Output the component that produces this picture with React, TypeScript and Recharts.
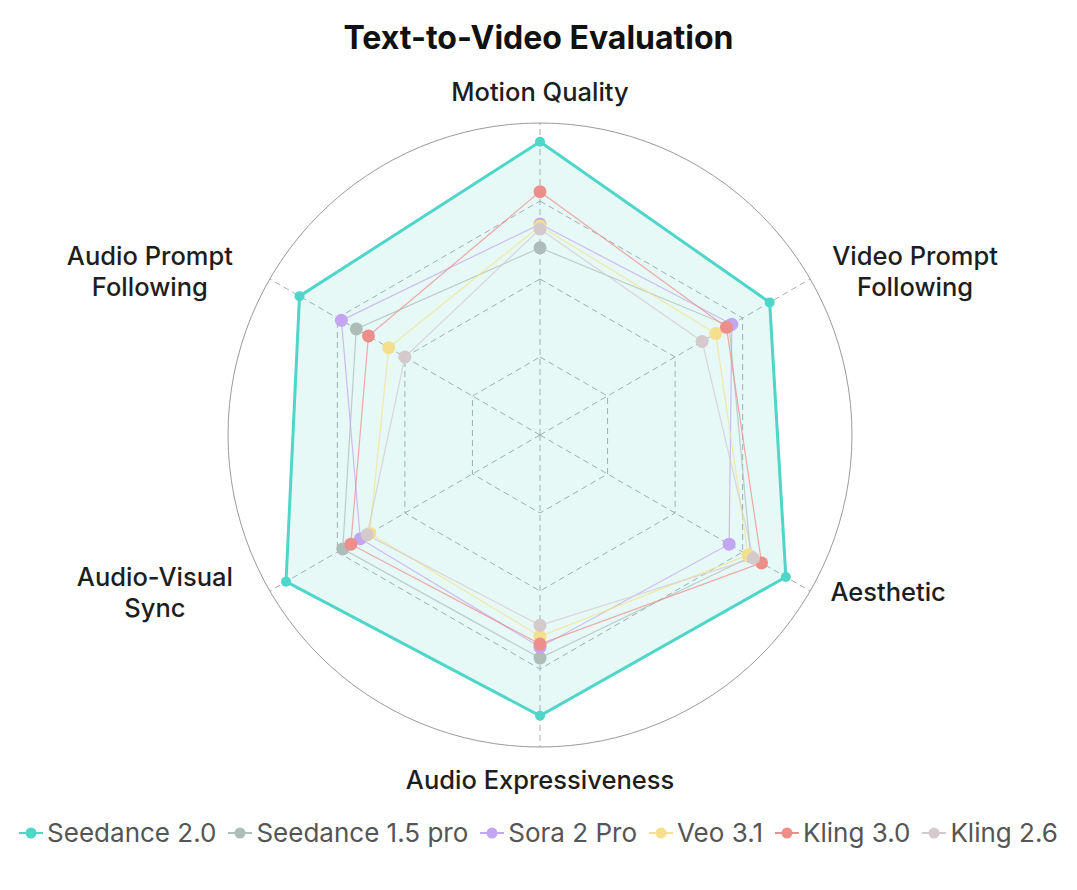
import React from 'react';
import { PolarAngleAxis, PolarGrid, PolarRadiusAxis, Radar, RadarChart } from 'recharts';

const AXES = [
  'Motion Quality',
  'Video Prompt Following',
  'Aesthetic',
  'Audio Expressiveness',
  'Audio-Visual Sync',
  'Audio Prompt Following',
];

const SEEDANCE_20 = [94, 85, 91, 90, 94, 89];
const SEEDANCE_15 = [60, 70, 78, 71.5, 73, 68];
const SORA_2_PRO = [67.6, 71, 70, 68, 66.5, 73.5];
const VEO_31 = [67, 65, 77, 64.5, 63, 56];
const KLING_30 = [78, 69, 82, 67, 70, 63.5];
const KLING_26 = [66, 60, 79, 61, 64, 50];

const SERIES = [
  { key: 'seedance20', name: 'Seedance 2.0', values: SEEDANCE_20, color: '#4fd6c9' },
  { key: 'seedance15', name: 'Seedance 1.5 pro', values: SEEDANCE_15, color: '#aebdb8' },
  { key: 'sora2pro', name: 'Sora 2 Pro', values: SORA_2_PRO, color: '#c3a6ef' },
  { key: 'veo31', name: 'Veo 3.1', values: VEO_31, color: '#f4e08c' },
  { key: 'kling30', name: 'Kling 3.0', values: KLING_30, color: '#ee8e8a' },
  { key: 'kling26', name: 'Kling 2.6', values: KLING_26, color: '#d4c9cb' },
];

const RING_TICKS = [25, 50, 75];
const MAX_VALUE = 100;
const OUTER_RADIUS = 312;
const FONT = 'Inter, "Noto Sans", sans-serif';

const rows = AXES.map((axis, i) => {
  const row: Record<string, string | number> = { axis };
  SERIES.forEach((s) => {
    row[s.key] = s.values[i];
  });
  return row;
});

// label placement relative to the tick point: line centre offset + vertical offset of first line
const LABEL_LAYOUT: Record<string, { dx: number; dy: number; lines: string[] }> = {
  'Motion Quality': { dx: 0, dy: -14, lines: ['Motion Quality'] },
  'Video Prompt Following': { dx: 98, dy: -10, lines: ['Video Prompt', 'Following'] },
  Aesthetic: { dx: 71, dy: 6, lines: ['Aesthetic'] },
  'Audio Expressiveness': { dx: 0, dy: 34, lines: ['Audio Expressiveness'] },
  'Audio-Visual Sync': { dx: -108, dy: -9, lines: ['Audio-Visual', 'Sync'] },
  'Audio Prompt Following': { dx: -113, dy: -10, lines: ['Audio Prompt', 'Following'] },
};

function AxisLabel(props: any) {
  const { x, y, payload } = props;
  const layout = LABEL_LAYOUT[payload.value];
  if (!layout) return null;
  return (
    <text
      x={x + layout.dx}
      y={y + layout.dy}
      textAnchor="middle"
      fill="#1e1e1e"
      fontSize={25.5}
      fontFamily={FONT}
      fontWeight={500}
    >
      {layout.lines.map((line, i) => (
        <tspan key={line} x={x + layout.dx} dy={i === 0 ? 0 : 31}>
          {line}
        </tspan>
      ))}
    </text>
  );
}

function LegendMarker({ color }: { color: string }) {
  return (
    <svg width={24} height={14} style={{ marginRight: 4 }}>
      <line x1={0} y1={7} x2={24} y2={7} stroke={color} strokeWidth={2} />
      <circle cx={12} cy={7} r={5.5} fill={color} />
    </svg>
  );
}

export default function App() {
  const ringRadii = RING_TICKS.map((t) => (t / MAX_VALUE) * OUTER_RADIUS);

  return (
    <div style={{ position: 'relative', width: 1077, height: 890, background: '#ffffff', fontFamily: FONT }}>
      <style>{'body{margin:0;}'}</style>
      <div
        style={{
          position: 'absolute',
          top: 18,
          left: 0,
          width: 1077,
          textAlign: 'center',
          fontSize: 32,
          fontWeight: 700,
          color: '#111',
        }}
      >
        Text-to-Video Evaluation
      </div>

      <RadarChart
        width={1077}
        height={890}
        data={rows}
        cx={540}
        cy={435}
        outerRadius={OUTER_RADIUS}
        startAngle={90}
        endAngle={-270}
        margin={{ top: 0, right: 0, bottom: 0, left: 0 }}
      >
        <PolarGrid
          gridType="polygon"
          polarRadius={ringRadii}
          stroke="#a8adad"
          strokeDasharray="6 4"
          strokeWidth={1}
        />
        <PolarGrid gridType="circle" polarRadius={[OUTER_RADIUS]} radialLines={false} stroke="#9a9a9a" strokeWidth={1} />
        <PolarRadiusAxis domain={[0, MAX_VALUE]} tick={false} axisLine={false} />
        <PolarAngleAxis dataKey="axis" tick={<AxisLabel />} tickLine={false} axisLine={false} />

        {SERIES.map((s, i) => {
          const main = i === 0;
          return (
            <Radar
              key={s.key}
              name={s.name}
              dataKey={s.key}
              stroke={s.color}
              strokeWidth={main ? 3 : 1.2}
              strokeOpacity={main ? 1 : 0.75}
              fill={s.color}
              fillOpacity={main ? 0.14 : 0}
              dot={{ r: main ? 5 : 6.5, fill: s.color, stroke: 'none', fillOpacity: 1 }}
              isAnimationActive={false}
            />
          );
        })}
      </RadarChart>

      <div
        style={{
          position: 'absolute',
          top: 817,
          left: 0,
          width: 1077,
          display: 'flex',
          justifyContent: 'center',
          alignItems: 'center',
          gap: 12,
          fontSize: 26,
          color: '#555',
        }}
      >
        {SERIES.map((s) => (
          <div key={s.key} style={{ display: 'flex', alignItems: 'center' }}>
            <LegendMarker color={s.color} />
            <span>{s.name}</span>
          </div>
        ))}
      </div>
    </div>
  );
}
